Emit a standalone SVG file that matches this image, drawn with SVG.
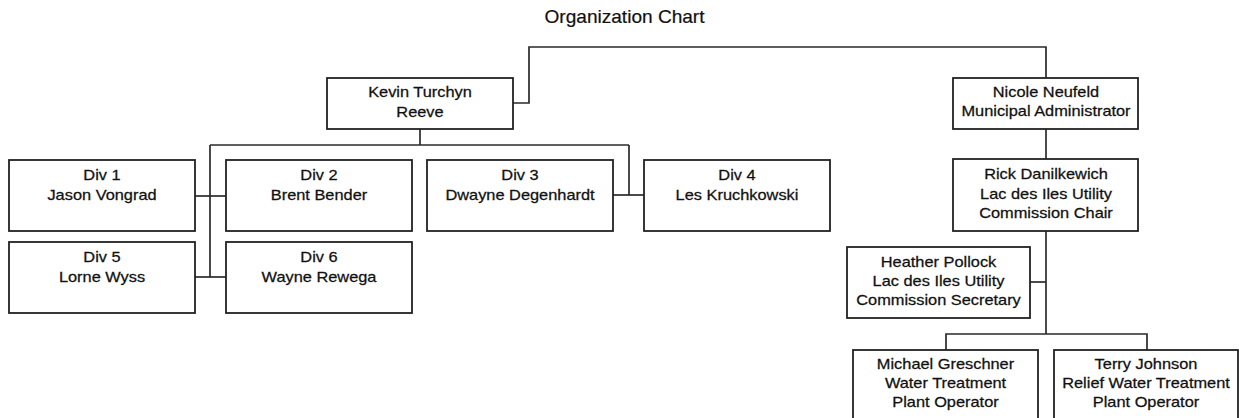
<svg xmlns="http://www.w3.org/2000/svg" width="1239" height="418" viewBox="0 0 1239 418">
<style>
.box{fill:#fff;stroke:#222;stroke-width:1.8}
.t{font-family:"Liberation Sans",Arial,sans-serif;font-size:14px;fill:#111;stroke:#111;stroke-width:0.25;text-anchor:middle}
.title{font-family:"Liberation Sans",Arial,sans-serif;font-size:17.5px;fill:#111;stroke:#111;stroke-width:0.2;text-anchor:middle}
.c{fill:none;stroke:#2a2a2a;stroke-width:1.7}
</style>
<rect width="1239" height="418" fill="#fff"/>
<text class="title" transform="translate(624.5,23) scale(1.09,1)" x="0" y="0">Organization Chart</text>
<g id="connectors">
<polyline class="c" points="513,103 529,103 529,47 1046,47 1046,78"/>
<line class="c" x1="420" y1="129" x2="420" y2="145"/>
<line class="c" x1="210" y1="145" x2="629" y2="145"/>
<line class="c" x1="210" y1="145" x2="210" y2="277"/>
<line class="c" x1="195" y1="196" x2="226" y2="196"/>
<line class="c" x1="195" y1="277" x2="226" y2="277"/>
<line class="c" x1="629" y1="145" x2="629" y2="195"/>
<line class="c" x1="613" y1="195" x2="644" y2="195"/>
<line class="c" x1="1046" y1="129" x2="1046" y2="159"/>
<line class="c" x1="1046" y1="231" x2="1046" y2="334"/>
<line class="c" x1="1030" y1="282" x2="1046" y2="282"/>
<polyline class="c" points="946,350 946,334 1147,334 1147,350"/>
</g>
<g id="kevin">
<rect class="box" x="327" y="78" width="186" height="51"/>
<text class="t" transform="translate(420,0) scale(1.17,1)" x="0" y="97">Kevin Turchyn</text>
<text class="t" transform="translate(420,0) scale(1.17,1)" x="0" y="117">Reeve</text>
</g>
<g id="div1">
<rect class="box" x="9" y="160" width="186" height="71"/>
<text class="t" transform="translate(102,0) scale(1.17,1)" x="0" y="180">Div 1</text>
<text class="t" transform="translate(102,0) scale(1.17,1)" x="0" y="200">Jason Vongrad</text>
</g>
<g id="div2">
<rect class="box" x="226" y="160" width="186" height="71"/>
<text class="t" transform="translate(319,0) scale(1.17,1)" x="0" y="180">Div 2</text>
<text class="t" transform="translate(319,0) scale(1.17,1)" x="0" y="200">Brent Bender</text>
</g>
<g id="div3">
<rect class="box" x="427" y="160" width="186" height="71"/>
<text class="t" transform="translate(520,0) scale(1.17,1)" x="0" y="180">Div 3</text>
<text class="t" transform="translate(520,0) scale(1.17,1)" x="0" y="200">Dwayne Degenhardt</text>
</g>
<g id="div4">
<rect class="box" x="644" y="160" width="186" height="71"/>
<text class="t" transform="translate(737,0) scale(1.17,1)" x="0" y="180">Div 4</text>
<text class="t" transform="translate(737,0) scale(1.17,1)" x="0" y="200">Les Kruchkowski</text>
</g>
<g id="div5">
<rect class="box" x="9" y="242" width="186" height="71"/>
<text class="t" transform="translate(102,0) scale(1.17,1)" x="0" y="262">Div 5</text>
<text class="t" transform="translate(102,0) scale(1.17,1)" x="0" y="282">Lorne Wyss</text>
</g>
<g id="div6">
<rect class="box" x="226" y="242" width="186" height="71"/>
<text class="t" transform="translate(319,0) scale(1.17,1)" x="0" y="262">Div 6</text>
<text class="t" transform="translate(319,0) scale(1.17,1)" x="0" y="282">Wayne Rewega</text>
</g>
<g id="nicole">
<rect class="box" x="953" y="78" width="185" height="51"/>
<text class="t" transform="translate(1046,0) scale(1.17,1)" x="0" y="97">Nicole Neufeld</text>
<text class="t" transform="translate(1046,0) scale(1.17,1)" x="0" y="116">Municipal Administrator</text>
</g>
<g id="rick">
<rect class="box" x="953" y="159" width="185" height="72"/>
<text class="t" transform="translate(1046,0) scale(1.17,1)" x="0" y="179">Rick Danilkewich</text>
<text class="t" transform="translate(1046,0) scale(1.17,1)" x="0" y="199">Lac des Iles Utility</text>
<text class="t" transform="translate(1046,0) scale(1.17,1)" x="0" y="218">Commission Chair</text>
</g>
<g id="heather">
<rect class="box" x="847" y="247" width="183" height="71"/>
<text class="t" transform="translate(938.5,0) scale(1.17,1)" x="0" y="267">Heather Pollock</text>
<text class="t" transform="translate(938.5,0) scale(1.17,1)" x="0" y="286">Lac des Iles Utility</text>
<text class="t" transform="translate(938.5,0) scale(1.17,1)" x="0" y="305">Commission Secretary</text>
</g>
<g id="michael">
<rect class="box" x="853" y="350" width="185" height="80"/>
<text class="t" transform="translate(945.5,0) scale(1.17,1)" x="0" y="369">Michael Greschner</text>
<text class="t" transform="translate(945.5,0) scale(1.17,1)" x="0" y="388">Water Treatment</text>
<text class="t" transform="translate(945.5,0) scale(1.17,1)" x="0" y="407">Plant Operator</text>
</g>
<g id="terry">
<rect class="box" x="1054" y="350" width="184" height="80"/>
<text class="t" transform="translate(1146,0) scale(1.17,1)" x="0" y="369">Terry Johnson</text>
<text class="t" transform="translate(1146,0) scale(1.17,1)" x="0" y="388">Relief Water Treatment</text>
<text class="t" transform="translate(1146,0) scale(1.17,1)" x="0" y="407">Plant Operator</text>
</g>
</svg>
